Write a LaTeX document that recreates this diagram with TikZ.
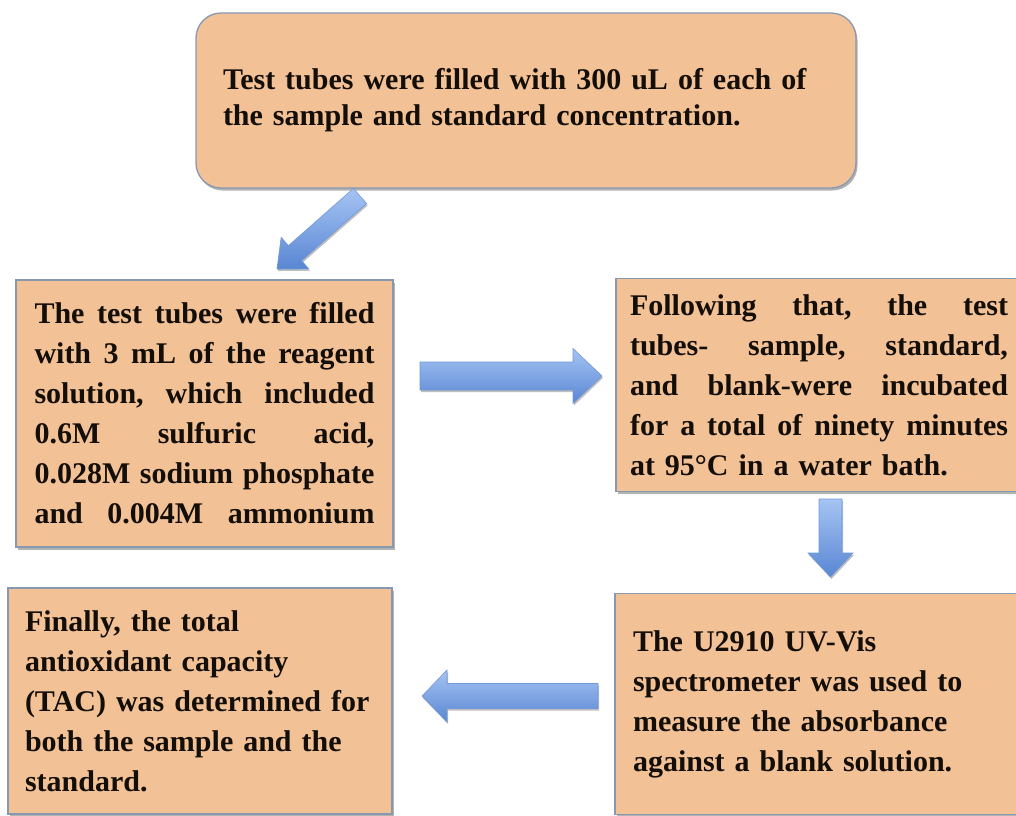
\documentclass[tikz,border=0pt]{standalone}
\usepackage{fontspec}
\setmainfont{Liberation Serif}
\usetikzlibrary{calc,shadows}
\definecolor{boxfill}{HTML}{F2C196}
\definecolor{boxline}{HTML}{8798B1}
\definecolor{arrtop}{HTML}{A6C4F3}
\definecolor{arrbot}{HTML}{5986D3}
\definecolor{arrline}{HTML}{7099D8}
\definecolor{txt}{HTML}{140E08}
% #1 tail, #2 tip, #3 shaft half width, #4 head half width, #5 head length
\newcommand{\blockarrow}[5]{%
  \coordinate (#1-base) at ($(#2)!#5!(#1)$);
  \draw[blockarr]
    ($(#1)!#3!90:(#2)$) -- ($(#1-base)!#3!90:(#2)$) -- ($(#1-base)!#4!90:(#2)$)
    -- (#2) -- ($(#1-base)!#4!-90:(#2)$) -- ($(#1-base)!#3!-90:(#2)$)
    -- ($(#1)!#3!-90:(#2)$) -- cycle;}
\newcommand{\boxfont}[1]{\bfseries\fontsize{30}{#1}\selectfont
  \spaceskip=7.5pt plus 30pt minus 2pt\relax\xspaceskip=\spaceskip\frenchspacing}
% a justified line of given width: words separated by \g
\newcommand{\g}{\hfill}
\newcommand{\jl}[2]{\leavevmode\hbox to #1{#2}}
\tikzset{
  box/.style={draw=boxline, line width=1.3pt, fill=boxfill, inner sep=0pt,
    align=left, text=txt, font={\boxfont{40}},
    drop shadow={shadow xshift=1.5pt, shadow yshift=-2.5pt, fill=black, opacity=0.3}},
  blockarr/.style={draw=arrline, line width=0.6pt, top color=arrtop, bottom color=arrbot,
    drop shadow={shadow xshift=1pt, shadow yshift=-2pt, fill=black, opacity=0.25}},
}
\begin{document}
\begin{tikzpicture}[x=1pt,y=-1pt]
\useasboundingbox (0,0) rectangle (1016,815);
\fill[white] (0,0) rectangle (1016,815);

\node[box, font={\boxfont{36}}, rounded corners=25pt, minimum width=660pt, minimum height=175pt, text width=606pt]
  (fill300) at (526,100.5)
  {Test tubes were filled with 300 uL of each of\\
   the sample and standard concentration.};

\node[box, minimum width=377pt, minimum height=267pt, text width=340pt]
  (reagent) at (204.5,413.5)
  {\jl{340pt}{The\g test\g tubes\g were\g filled}\\
   \jl{340pt}{with\g 3\g mL\g of\g the\g reagent}\\
   \jl{340pt}{solution,\g which\g included}\\
   \jl{340pt}{0.6M\g sulfuric\g acid,}\\
   \jl{340pt}{0.028M\g sodium\g phosphate}\\
   \jl{340pt}{and\g 0.004M\g ammonium}};

\node[box, minimum width=406pt, minimum height=213pt, text width=378pt]
  (incubate) at (819,385)
  {\jl{378pt}{Following\g that,\g the\g test}\\
   \jl{378pt}{tubes-\g sample,\g standard,}\\
   \jl{378pt}{and\g blank-were\g incubated}\\
   \jl{378pt}{for\g a\g total\g of\g ninety\g minutes}\\
   at 95°C in a water bath.};

\node[box, minimum width=407pt, minimum height=221pt, text width=371pt]
  (measure) at (818.5,704)
  {The U2910 UV-Vis\\
   spectrometer was used to\\
   measure the absorbance\\
   against a blank solution.};

\node[box, minimum width=384pt, minimum height=226pt, text width=350pt]
  (tac) at (200,701)
  {Finally, the total\\
   antioxidant capacity\\
   (TAC) was determined for\\
   both the sample and the\\
   standard.};

% block arrows
\coordinate (a1tail) at (360,196);
\coordinate (a1tip)  at (277,269);
\blockarrow{a1tail}{a1tip}{10pt}{21pt}{24pt}

\coordinate (a2tail) at (420,376);
\coordinate (a2tip)  at (602,376);
\blockarrow{a2tail}{a2tip}{14pt}{27.5pt}{29pt}

\coordinate (a3tail) at (830.5,499);
\coordinate (a3tip)  at (830.5,577);
\blockarrow{a3tail}{a3tip}{11.5pt}{22.5pt}{24pt}

\coordinate (a4tail) at (598,696);
\coordinate (a4tip)  at (422,696);
\blockarrow{a4tail}{a4tip}{12.5pt}{26pt}{25pt}
\end{tikzpicture}
\end{document}
